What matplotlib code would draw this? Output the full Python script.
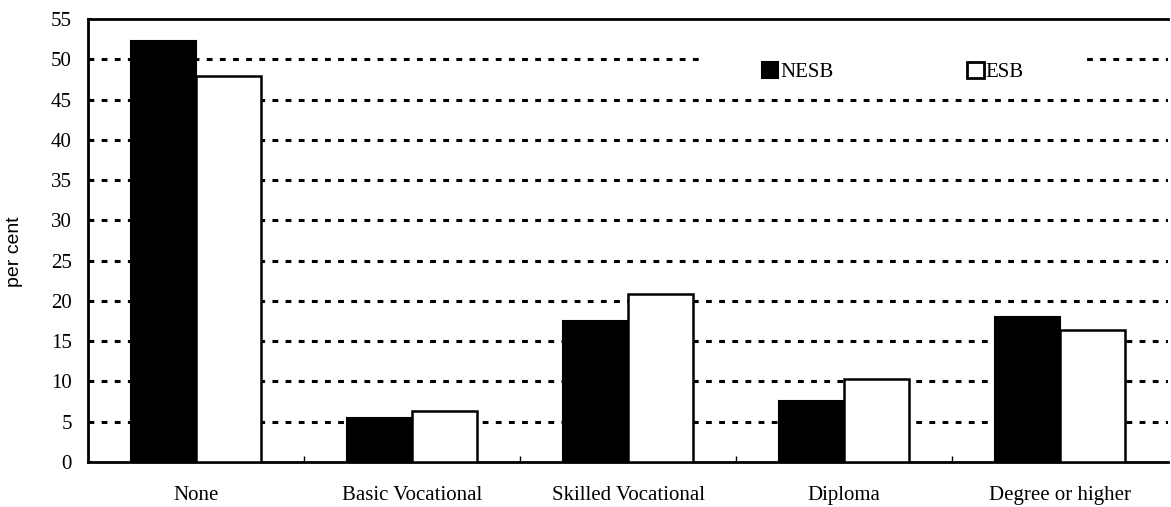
import numpy as np
import matplotlib.pyplot as plt
from matplotlib.patches import Patch, Rectangle
from matplotlib.transforms import blended_transform_factory

plt.rcParams['font.family'] = ['Liberation Serif', 'DejaVu Serif']

# Highest qualification, per cent of each group
categories = ['None', 'Basic Vocational', 'Skilled Vocational', 'Diploma', 'Degree or higher']
nesb = [52.3, 5.4, 17.5, 7.6, 18.0]
esb = [47.9, 6.3, 20.9, 10.3, 16.4]
yticks = np.arange(0, 56, 5)

fig = plt.figure(figsize=(11.71, 5.07), dpi=100)
ax = fig.add_axes([0.0751, 0.0888, 0.9225, 0.8737])

x = np.arange(len(categories))
w = 0.30
ax.bar(x - w/2, nesb, w, color='black', edgecolor='black', lw=1.5, zorder=3)
ax.bar(x + w/2, esb, w, color='white', edgecolor='black', lw=1.8, zorder=3)

# dashed grid
for yv in yticks[1:-1]:
    ax.axhline(yv, color='black', lw=2.2, linestyle=(0, (1.9, 2.4)), zorder=1)

# blank strip behind the legend
trans = blended_transform_factory(ax.transAxes, ax.transData)
ax.add_patch(Rectangle((0.567, 46.5), 0.353, 5.0, transform=trans,
                       facecolor='white', edgecolor='none', zorder=2))

ax.set_xlim(-0.5, len(categories) - 0.5)
ax.set_ylim(0, 55)
ax.set_yticks(yticks)
ax.set_xticks(x)
ax.set_xticklabels(categories, fontsize=15)
ax.set_xticks(x[:-1] + 0.5, minor=True)
ax.tick_params(axis='x', which='major', length=0, pad=17)
ax.tick_params(axis='x', which='minor', direction='in', length=4, width=1)
ax.tick_params(axis='y', direction='in', length=3, width=1.5, labelsize=15, pad=11.5)

for s in ['left', 'top', 'bottom']:
    ax.spines[s].set_linewidth(2)
ax.spines['right'].set_visible(False)

ax.set_ylabel('per cent', fontsize=14, family=['Liberation Sans', 'DejaVu Sans'])
ax.yaxis.set_label_coords(-0.060, 0.474)

handles = [Patch(facecolor='black', edgecolor='black', lw=1.5, label='NESB'),
           Patch(facecolor='white', edgecolor='black', lw=2, label='ESB')]
leg = ax.legend(handles=handles, ncol=2, loc='center', bbox_to_anchor=(0.745, 0.88),
                frameon=False, fontsize=15, handlelength=0.8, handleheight=0.8,
                handletextpad=0.1, columnspacing=6.4, borderpad=0, borderaxespad=0)
leg.set_zorder(4)

fig.savefig('out.png', dpi=100)
